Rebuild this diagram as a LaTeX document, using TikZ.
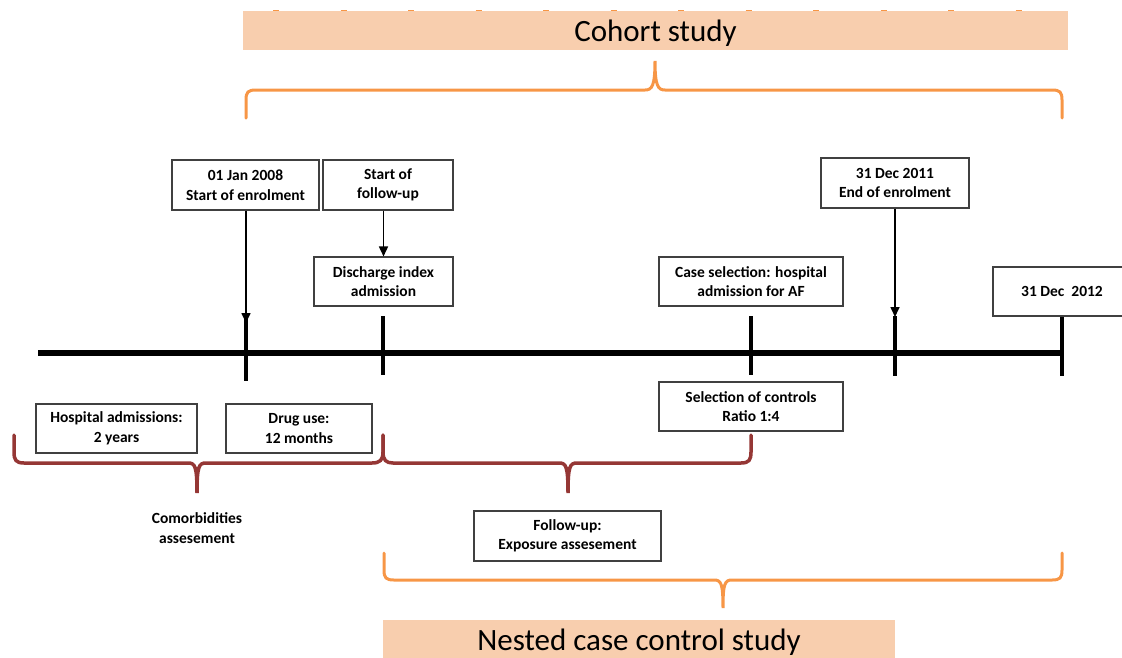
\documentclass[tikz,border=0pt]{standalone}
\usepackage{fontspec}
\setmainfont{Carlito}
\usetikzlibrary{arrows.meta}
\definecolor{orangeln}{HTML}{F79646}
\definecolor{orangefill}{HTML}{F8CEAE}
\definecolor{redln}{HTML}{953735}
\tikzset{
  box/.style={draw=black!75, line width=1.1pt, fill=white, inner sep=0pt, align=center,
    font=\fontsize{15.5}{19.5}\selectfont\bfseries},
  title/.style={fill=orangefill, inner sep=0pt},
  titletext/.style={inner sep=0pt, font=\fontsize{31}{34}\selectfont},
  axis/.style={line width=6pt},
  tick/.style={line width=4pt},
  arr/.style={line width=1.6pt, -{Triangle[width=9pt,length=10pt]}},
  obrace/.style={draw=orangeln, line width=3pt, line cap=round},
  rbrace/.style={draw=redln, line width=3.5pt, line cap=round},
  plain/.style={inner sep=0pt, align=center, font=\fontsize{15.5}{20}\selectfont\bfseries}
}
\begin{document}
\begin{tikzpicture}[x=1pt,y=-1pt]
\useasboundingbox (0,0) rectangle (1122,657);
% top title
\draw[orangeln, line width=1.5pt, dash pattern=on 6pt off 61.5pt] (273,10.5) -- (1030,10.5);
\node[title, minimum width=825pt, minimum height=39pt] (cohort) at (655.5,30.5) {};
\node[titletext] (cohortt) at (655.5,33) {Cohort study};
% top orange brace
\draw[obrace] (246,118) -- (246,100) .. controls (246,92) and (248,90) .. (256,90) -- (645,90)
  .. controls (652,90) and (655,86) .. (655,61) .. controls (655,86) and (658,90) .. (665,90)
  -- (1052,90) .. controls (1060,90) and (1062,92) .. (1062,100) -- (1062,118);
% timeline
\coordinate (L) at (38,353);
\coordinate (R) at (1064,353);
\draw[axis] (L) -- (R);
\coordinate (t1a) at (246,318); \coordinate (t1b) at (246,381);
\coordinate (t2a) at (383,316); \coordinate (t2b) at (383,375);
\coordinate (t3a) at (751,316); \coordinate (t3b) at (751,375);
\coordinate (t4a) at (895,316); \coordinate (t4b) at (895,376);
\coordinate (t5a) at (1062,316); \coordinate (t5b) at (1062,376);
\draw[tick] (t1a) -- (t1b);
\draw[tick] (t2a) -- (t2b);
\draw[tick] (t3a) -- (t3b);
\draw[tick] (t4a) -- (t4b);
\draw[tick] (t5a) -- (t5b);
% boxes above
\node[box, minimum width=147pt, minimum height=50pt] (b1) at (245.5,185) {01 Jan 2008\\Start of enrolment};
\node[box, minimum width=130pt, minimum height=50pt] (b2) at (388,185) {Start of\\follow-up};
\node[box, minimum width=139pt, minimum height=49pt] (b3) at (383.5,281.5) {Discharge index\\admission};
\node[box, minimum width=184pt, minimum height=49pt] (b4) at (751,281.5) {Case selection: hospital\\admission for AF};
\node[box, minimum width=148pt, minimum height=50pt] (b5) at (895,183) {31 Dec 2011\\End of enrolment};
\node[box, minimum width=138pt, minimum height=49pt] (b6) at (1062,291.5) {31 Dec\ \ 2012};
% arrows
\coordinate (a1) at (246,323);
\coordinate (a5) at (895,317);
\draw[arr] (b1.south -| a1) -- (a1);
\draw[arr] (b3.north |- b2.south) -- (b3.north);
\draw[arr] (b5.south) -- (a5);
% boxes below
\node[box, minimum width=161pt, minimum height=49pt] (b7) at (116.5,428.5) {Hospital admissions:\\2 years};
\node[box, minimum width=146pt, minimum height=49pt] (b8) at (299,428.5) {Drug use:\\12 months};
\node[box, minimum width=184pt, minimum height=49pt] (b9) at (751,406.5) {Selection of controls\\Ratio 1:4};
% red braces
\draw[rbrace] (14,435) -- (14,452) .. controls (14,460) and (16,463) .. (24,463) -- (188,463)
  .. controls (195,463) and (197,466) .. (197,493) .. controls (197,466) and (199,463) .. (206,463)
  -- (372,463) .. controls (380,463) and (383,460) .. (383,452) -- (383,435);
\draw[rbrace] (383,435) -- (383,452) .. controls (383,460) and (386,463) .. (393,463) -- (559,463)
  .. controls (566,463) and (568,466) .. (568,493) .. controls (568,466) and (570,463) .. (577,463)
  -- (741,463) .. controls (749,463) and (751,460) .. (751,452) -- (751,435);
\node[plain] (como) at (197,528) {Comorbidities\\assesement};
\node[box, minimum width=187pt, minimum height=50pt] (b10) at (567.5,536) {Follow-up:\\Exposure assesement};
% bottom orange brace
\draw[obrace] (384,553) -- (384,570) .. controls (384,578) and (386,580) .. (394,580) -- (714,580)
  .. controls (721,580) and (723,583) .. (723,608) .. controls (723,583) and (725,580) .. (732,580)
  -- (1052,580) .. controls (1060,580) and (1062,578) .. (1062,570) -- (1062,553);
\node[title, minimum width=512pt, minimum height=40pt, anchor=north west] (nested) at (383,620) {};
\node[titletext] (nestedt) at (639,642) {Nested case control study};
\end{tikzpicture}
\end{document}
